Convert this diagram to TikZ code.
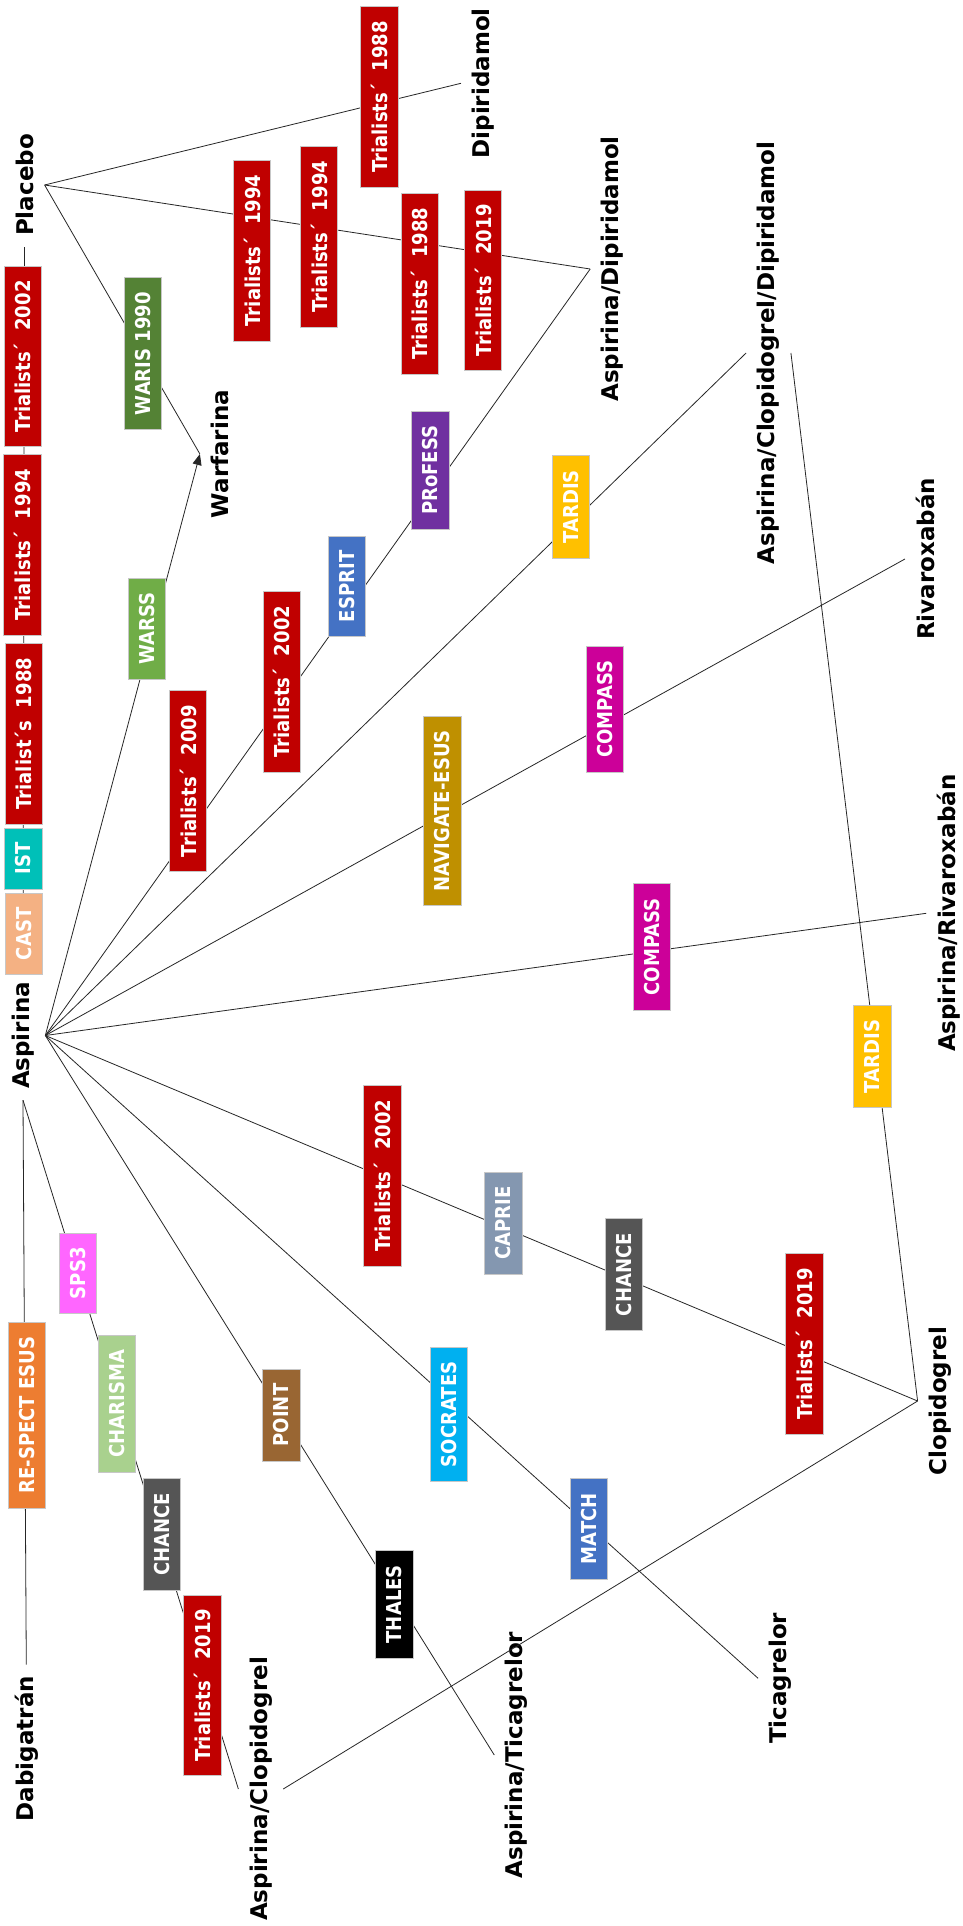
\documentclass[tikz,border=0pt]{standalone}
\usepackage{fontspec}
\usetikzlibrary{arrows.meta}
\newfontfamily\lblfnt{DejaVu Sans}
\newfontfamily\boxfnt[FakeStretch=0.88]{DejaVu Sans}
\definecolor{tred}{HTML}{C00000}
\definecolor{cwaris}{HTML}{548235}
\definecolor{cwarss}{HTML}{70AD47}
\definecolor{cblue}{HTML}{4472C4}
\definecolor{cpurple}{HTML}{7030A0}
\definecolor{cgold}{HTML}{FFC000}
\definecolor{cdgold}{HTML}{BF9000}
\definecolor{cmag}{HTML}{CC0099}
\definecolor{cteal}{HTML}{00C0B8}
\definecolor{cpeach}{HTML}{F4B183}
\definecolor{corange}{HTML}{ED7D31}
\definecolor{cpink}{HTML}{FF66FF}
\definecolor{clgreen}{HTML}{A9D18E}
\definecolor{cdgray}{HTML}{555555}
\definecolor{cbrown}{HTML}{996633}
\definecolor{csky}{HTML}{00B0F0}
\definecolor{cgblue}{HTML}{8497B0}
\newcommand\trl[1]{Trialists´\ \ #1}
\tikzset{
  lbl/.style={rotate=90, font=\lblfnt\bfseries\fontsize{23}{27}\selectfont, inner sep=11pt},
  trial/.style={rotate=90, fill=#1, draw=black!22, line width=0.6pt, text=white,
    font=\boxfnt\bfseries\fontsize{20.5}{24}\selectfont,
    minimum height=37.5pt, inner xsep=14.5pt, inner ysep=0pt},
  conn/.style={draw=black!85, line width=0.8pt},
}
\begin{document}
\begin{tikzpicture}[x=1pt,y=-1pt]
\fill[white] (0,0) rectangle (962,1926);
\useasboundingbox (0,0) rectangle (962,1926);
% treatment labels
\node[lbl] (plac) at (24.5,185) {Placebo};
\node[lbl] (dip) at (483.3,83.3) {Dipiridamol};
\node[lbl] (aspdip) at (612.5,269) {Aspirina/Dipiridamol};
\node[lbl] (warf) at (220,454) {Warfarina};
\node[lbl] (acd) at (768.5,353) {Aspirina/Clopidogrel/Dipiridamol};
\node[lbl] (riva) at (925.5,559) {Rivaroxabán};
\node[lbl] (asprv) at (949,913.3) {Aspirina/Rivaroxabán};
\node[lbl] (clop) at (940,1401) {Clopidogrel};
\node[lbl] (tica) at (780.5,1678.3) {Ticagrelor};
\node[lbl] (asptica) at (516.7,1755) {Aspirina/Ticagrelor};
\node[lbl] (aspclop) at (260.8,1789) {Aspirina/Clopidogrel};
\node[lbl] (dabi) at (26.3,1748.5) {Dabigatrán};
\node[lbl] (asp) at (23,1035.5) {Aspirina};
% connectors
\draw[conn] (plac.south) -- (dip.north);
\draw[conn] (plac.south) -- (aspdip.north);
\draw[conn] (plac.south) -- (warf.north);
\draw[conn] (plac.west) -- (asp.east);
\draw[conn,-{Triangle[length=11pt,width=9pt]}] (asp.south) -- (warf.north);
\draw[conn] (asp.south) -- (aspdip.north);
\draw[conn] (asp.south) -- (acd.north);
\draw[conn] (acd.south) -- (clop.north);
\draw[conn] (asp.south) -- (riva.north);
\draw[conn] (asp.south) -- (asprv.north);
\draw[conn] (asp.south) -- (clop.north);
\draw[conn] (asp.south) -- (tica.north);
\draw[conn] (asp.south) -- (asptica.north);
\draw[conn] (asp.west) -- (aspclop.north);
\draw[conn] (asp.west) -- (dabi.east);
\draw[conn] (clop.north) -- (aspclop.south);
% trial boxes
\node[trial=tred] (t88a) at (379.5,97) {\trl{1988}};
\node[trial=tred] (t94a) at (252,250.5) {\trl{1994}};
\node[trial=tred] (t94b) at (319,236.8) {\trl{1994}};
\node[trial=tred] (t88b) at (419.8,283.7) {\trl{1988}};
\node[trial=tred] (t19a) at (483,280.3) {\trl{2019}};
\node[trial=tred] (t02L) at (22.8,356.3) {\trl{2002}};
\node[trial=tred] (t94L) at (22.2,544.7) {\trl{1994}};
\node[trial=tred] (t88L) at (23.7,733.7) {Trialist´s\ \ 1988};
\node[trial=tred] (t09) at (188,781.2) {\trl{2009}};
\node[trial=tred] (t02m) at (281.7,681.7) {\trl{2002}};
\node[trial=tred] (t02c) at (382.2,1175.5) {\trl{2002}};
\node[trial=tred] (t19c) at (804.5,1343.8) {\trl{2019}};
\node[trial=tred] (t19L) at (202.2,1685.3) {\trl{2019}};
\node[trial=cteal] (ist) at (23.3,858.3) {IST};
\node[trial=cpeach] (cast) at (23.8,933.8) {CAST};
\node[trial=cwaris] (waris) at (142.8,353.5) {WARIS 1990};
\node[trial=cwarss] (warss) at (146.8,628.5) {WARSS};
\node[trial=cblue] (esprit) at (347,586.3) {ESPRIT};
\node[trial=cpurple] (profess) at (430.5,470.3) {PRoFESS};
\node[trial=cgold] (tardisA) at (571,507) {TARDIS};
\node[trial=cdgold] (navig) at (442.2,810.8) {NAVIGATE-ESUS};
\node[trial=cmag] (compA) at (605,709.2) {COMPASS};
\node[trial=cmag] (compB) at (652,946.7) {COMPASS};
\node[trial=cgold] (tardisB) at (872.5,1056.3) {TARDIS};
\node[trial=cgblue] (caprie) at (503.5,1223) {CAPRIE};
\node[trial=cdgray] (chanceA) at (623.8,1274.7) {CHANCE};
\node[trial=csky] (socr) at (448.7,1414.2) {SOCRATES};
\node[trial=cblue] (match) at (588.8,1528.8) {MATCH};
\node[trial=cbrown] (point) at (281.5,1415) {POINT};
\node[trial=black] (thales) at (394.2,1604.2) {THALES};
\node[trial=corange] (respect) at (27,1415) {RE-SPECT ESUS};
\node[trial=cpink] (sps3) at (78,1273.2) {SPS3};
\node[trial=clgreen] (charisma) at (117,1403.8) {CHARISMA};
\node[trial=cdgray] (chanceB) at (161.7,1534.2) {CHANCE};
\end{tikzpicture}
\end{document}
